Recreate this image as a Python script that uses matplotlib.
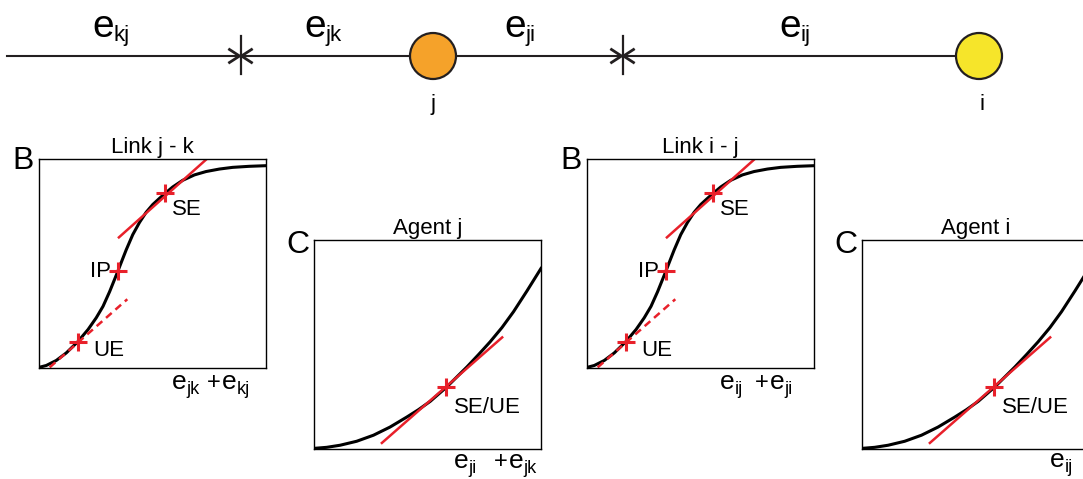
import matplotlib
matplotlib.use("Agg")
import matplotlib.pyplot as plt
from matplotlib.patches import Circle

plt.rcParams["font.family"] = ["Liberation Sans", "DejaVu Sans"]

# ---------- data (normalised panel coords) ----------
# link payoff: sigmoid
link_x = [0.0, 0.032, 0.076, 0.120, 0.171, 0.216, 0.252, 0.282, 0.311, 0.347, 0.367, 0.384, 0.413,
          0.443, 0.472, 0.501, 0.531, 0.556, 0.589, 0.633, 0.685, 0.736, 0.795, 0.853, 0.926, 1.0]
link_y = [0.003, 0.012, 0.036, 0.072, 0.126, 0.184, 0.240, 0.295, 0.365, 0.462, 0.518, 0.565, 0.638,
          0.697, 0.745, 0.782, 0.812, 0.836, 0.866, 0.898, 0.924, 0.940, 0.952, 0.960, 0.965, 0.968]
link_points = {"UE": (0.171, 0.126), "IP": (0.347, 0.462), "SE": (0.556, 0.836)}
link_se_tangent = ([0.352, 0.739], [0.625, 1.0])
link_ue_tangent = ([0.047, 0.389], [0.003, 0.329])

# agent payoff: convex
agent_x = [0.0, 0.056, 0.115, 0.188, 0.262, 0.335, 0.409, 0.460, 0.512, 0.585, 0.674,
           0.725, 0.776, 0.828, 0.879, 0.938, 1.0]
agent_y = [0.003, 0.008, 0.018, 0.037, 0.066, 0.105, 0.153, 0.188, 0.228, 0.297, 0.393,
           0.452, 0.513, 0.581, 0.657, 0.756, 0.864]
agent_point = (0.582, 0.297)
agent_tangent = ([0.299, 0.829], [0.029, 0.534])

link_titles = ["Link j - k", "Link i - j"]
agent_titles = ["Agent j", "Agent i"]
chain_subs = ["kj", "jk", "ji", "ij"]
link_xsubs = [("jk", "kj"), ("ij", "ji")]
agent_xsubs = [("ji", "jk"), ("ij", None)]

RED = "#e8202a"
INK = "#231f20"
W, H = 1083, 479

fig = plt.figure(figsize=(W / 100, H / 100), dpi=100)

# background axes in pixel coords for the top sketch and labels
bg = fig.add_axes([0, 0, 1, 1])
bg.set_xlim(0, W)
bg.set_ylim(H, 0)
bg.axis("off")


def e_sub(x, y, sub, fs, sfs, drop):
    """'e' with a small upright subscript, x = left edge, y = baseline (px)."""
    bg.text(x, y, "e", fontsize=fs, ha="left", va="baseline")
    adv = 0.556 * fs * 100 / 72
    bg.text(x + adv, y + drop, sub, fontsize=sfs, ha="left", va="baseline")


# ---------- top chain ----------
ly = 56
bg.plot([7, 960], [ly, ly], color=INK, lw=1.5, zorder=1)
for tx in [240.5, 622.5]:
    bg.plot([tx, tx], [36, 74], color=INK, lw=1.6)
    bg.plot([tx - 11, tx - 1, tx - 11], [ly - 6.5, ly, ly + 6.5], color=INK, lw=2.0)
    bg.plot([tx + 11, tx + 1, tx + 11], [ly - 6.5, ly, ly + 6.5], color=INK, lw=2.0)

bg.add_patch(Circle((433, ly), 23, facecolor="#f5a22a", edgecolor=INK, lw=1.6, zorder=3))
bg.add_patch(Circle((979, ly), 23, facecolor="#f6e52a", edgecolor=INK, lw=1.6, zorder=3))
bg.text(433, 110, "j", fontsize=16, ha="center", va="baseline")
bg.text(982, 110, "i", fontsize=16, ha="center", va="baseline")

for lx, lab in zip([92, 304, 504, 779], chain_subs):
    e_sub(lx, 37, lab, 28, 16, 4)


# ---------- panels ----------
def add_panel(left, top, w=227, h=209):
    ax = fig.add_axes([left / W, (H - top - h) / H, w / W, h / H])
    ax.set_xlim(0, 1)
    ax.set_ylim(0, 1)
    ax.set_xticks([])
    ax.set_yticks([])
    for s in ax.spines.values():
        s.set_linewidth(1.0)
    return ax


def draw_link(ax, title):
    ax.plot(link_x, link_y, color="black", lw=2.2, solid_joinstyle="round")
    ax.plot(*link_se_tangent, color=RED, lw=1.8)
    ax.plot(*link_ue_tangent, color=RED, lw=1.8, linestyle=(0, (3, 2)))
    for k, (px, py) in link_points.items():
        ax.plot(px, py, marker="+", ms=13, mew=2.2, color=RED)
    ax.text(0.586, 0.756, "SE", fontsize=16, ha="left", va="center")
    ax.text(0.318, 0.464, "IP", fontsize=16, ha="right", va="center")
    ax.text(0.238, 0.086, "UE", fontsize=16, ha="left", va="center")
    ax.set_title(title, fontsize=16, pad=4)


def draw_agent(ax, title):
    ax.plot(agent_x, agent_y, color="black", lw=2.2, solid_joinstyle="round")
    ax.plot(*agent_tangent, color=RED, lw=1.8)
    ax.plot(*agent_point, marker="+", ms=13, mew=2.2, color=RED)
    ax.text(0.615, 0.20, "SE/UE", fontsize=16, ha="left", va="center")
    ax.set_title(title, fontsize=16, pad=4)


for i, (bl, cl) in enumerate([(39, 314), (587, 862)]):
    axb = add_panel(bl, 159)
    draw_link(axb, link_titles[i])
    axc = add_panel(cl, 240)
    draw_agent(axc, agent_titles[i])
    bg.text(bl - 27, 169, "B", fontsize=23, ha="left", va="baseline")
    bg.text(cl - 28, 253, "C", fontsize=23, ha="left", va="baseline")

    # x label of link panel: e_a + e_b
    s1, s2 = link_xsubs[i]
    x0 = bl + 133
    e_sub(x0, 389, s1, 19, 13, 5)
    bg.text(x0 + 35, 389, "+", fontsize=17, ha="left", va="baseline")
    e_sub(x0 + 50, 389, s2, 19, 13, 5)

# x labels of agent panels
s1, s2 = agent_xsubs[0]
e_sub(454, 468, s1, 19, 13, 5)
bg.text(494, 468, "+", fontsize=17, ha="left", va="baseline")
e_sub(509, 468, s2, 19, 13, 5)
e_sub(1050, 467, agent_xsubs[1][0], 19, 13, 5)

fig.savefig("out.png", dpi=100)
